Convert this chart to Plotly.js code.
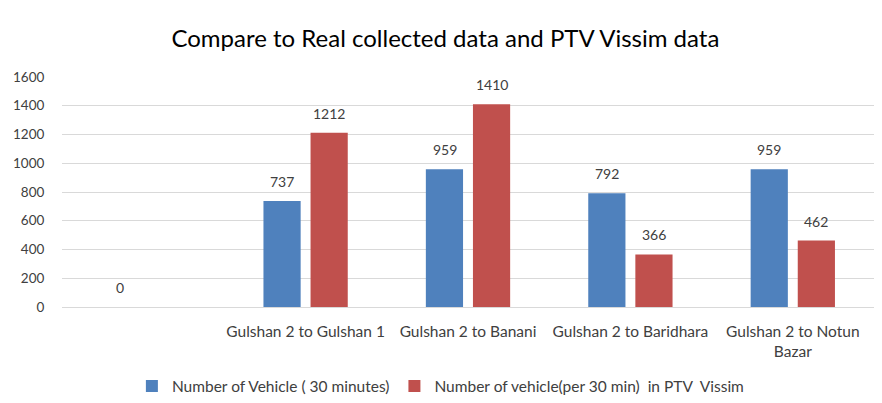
<!DOCTYPE html>
<html><head><meta charset="utf-8">
<script src="https://cdn.plot.ly/plotly-3.0.1.min.js"></script>
<style>html,body{margin:0;padding:0;background:#fff}#chart{width:882px;height:403px}</style>
</head><body><div id="chart"></div>
<script>
var categories = [" ", "Gulshan 2 to Gulshan 1", "Gulshan 2 to Banani", "Gulshan 2 to Baridhara", "Gulshan 2 to Notun<br>Bazar"];
var realValues = [0, 737, 959, 792, 959];
var vissimValues = [null, 1212, 1410, 366, 462];
var seriesNames = ["Number of Vehicle ( 30 minutes)", "Number of vehicle(per 30 min)  in PTV  Vissim"];

var traces = [
  {type:"bar", name:seriesNames[0], x:categories, y:realValues, marker:{color:"#4F81BD"}},
  {type:"bar", name:seriesNames[1], x:categories, y:vissimValues, marker:{color:"#C0504D"}}
];
var annotations = [];
[realValues, vissimValues].forEach(function(vals, s){
  vals.forEach(function(v, i){
    if (v === null) return;
    annotations.push({x:categories[i], y:v, xref:"x", yref:"y", text:String(v), showarrow:false,
      xshift:(s === 0 ? -23.5 : 23.5), yshift:9, yanchor:"bottom", xanchor:"center",
      font:{family:"Lato, sans-serif", size:14, color:"#404040"}});
  });
});
var layout = {
  width:882, height:403,
  margin:{l:62, r:8, t:77, b:96, autoexpand:false},
  paper_bgcolor:"#fff", plot_bgcolor:"#fff",
  font:{family:"Lato, sans-serif", size:13, color:"#404040"},
  title:{text:"Compare to Real collected data and PTV Vissim data", x:0.505, xref:"container", xanchor:"center", y:0.905, yref:"container", yanchor:"middle",
         font:{family:"Lato, sans-serif", size:24, color:"#000"}},
  barmode:"group", bargap:0.42, bargroupgap:0.21,
  annotations:annotations,
  xaxis:{type:"category", automargin:false, showgrid:false, zeroline:false, showline:true, linecolor:"#d9d9d9", linewidth:1,
         ticks:"outside", ticklen:10, tickcolor:"rgba(0,0,0,0)", tickfont:{size:15.5, color:"#404040"}},
  yaxis:{range:[0,1600], dtick:200, automargin:false, showgrid:true, gridcolor:"#d9d9d9", zeroline:false, showline:false,
         ticks:"outside", ticklen:14, tickcolor:"rgba(0,0,0,0)", tickfont:{size:13.5, color:"#404040"}},
  showlegend:true,
  legend:{orientation:"h", x:0.466, xanchor:"center", y:-0.345, yanchor:"middle", font:{size:15.5, color:"#404040"},
          itemwidth:30, traceorder:"normal"}
};
Plotly.newPlot("chart", traces, layout, {displayModeBar:false, staticPlot:true});
</script></body></html>
